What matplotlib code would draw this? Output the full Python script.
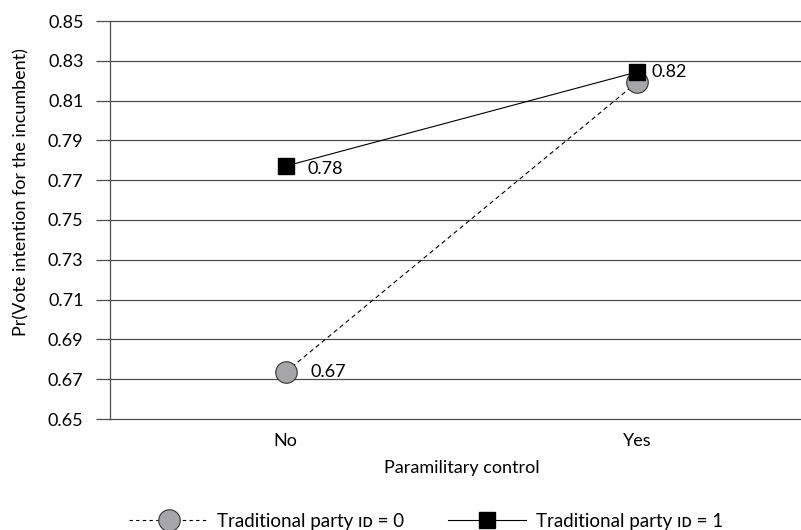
import matplotlib.pyplot as plt
from matplotlib.lines import Line2D

plt.rcParams['font.family'] = ['Lato', 'DejaVu Sans']

# Data
categories = ['No', 'Yes']
party_id0 = [0.6736, 0.8193]
party_id1 = [0.7771, 0.8244]
labels_id0 = ['0.67', '0.82']
labels_id1 = ['0.78', '']
yticks = [0.65, 0.67, 0.69, 0.71, 0.73, 0.75, 0.77, 0.79, 0.81, 0.83, 0.85]
legend_labels = ['Traditional party \u026a\u1d05 = 0', 'Traditional party \u026a\u1d05 = 1']

GRID = '#4d4d4d'
GRAY = '#a6a6a8'
FS = 13

fig = plt.figure(figsize=(8.01, 5.30), dpi=100)
ax = fig.add_axes([110 / 801, 1 - 419 / 530, 703 / 801, 398 / 530])

x = list(range(len(categories)))
ax.plot(x, party_id0, linestyle=(0, (4, 3)), color='black', linewidth=0.8,
        marker='o', markersize=15.5, markerfacecolor=GRAY,
        markeredgecolor='#333333', markeredgewidth=0.8, zorder=3)
ax.plot(x, party_id1, linestyle='-', color='black', linewidth=0.8,
        marker='s', markersize=12, markerfacecolor='black',
        markeredgecolor='black', zorder=4)

# data labels
ax.annotate(labels_id0[0], (x[0], party_id0[0]), xytext=(18, 0),
            textcoords='offset points', va='center', fontsize=FS)
ax.annotate(labels_id1[0], (x[0], party_id1[0]), xytext=(16, -2),
            textcoords='offset points', va='center', fontsize=FS)
ax.annotate(labels_id0[1], (x[1], party_id1[1]), xytext=(10, 0),
            textcoords='offset points', va='center', fontsize=FS)

ax.set_xlim(-0.5, 1.5)
ax.set_ylim(0.65, 0.85)
ax.set_yticks(yticks)
ax.set_yticklabels([f'{t:.2f}' for t in yticks], fontsize=FS)
ax.set_xticks(x)
ax.set_xticklabels(categories, fontsize=FS)
ax.tick_params(axis='x', length=0, pad=10)
ax.tick_params(axis='y', length=10, width=0.9, color=GRID, pad=9)

ax.hlines(yticks, -0.5, 1.5, color=GRID, linewidth=0.9, zorder=1, clip_on=False)
for side in ['top', 'right', 'bottom']:
    ax.spines[side].set_visible(False)
ax.spines['left'].set_color(GRID)
ax.spines['left'].set_linewidth(0.9)

ax.set_xlabel('Paramilitary control', fontsize=FS, labelpad=8)
ax.set_ylabel('Pr(Vote intention for the incumbent)', fontsize=FS)
ax.yaxis.set_label_coords(-0.114, 0.57)

handles = [
    Line2D([], [], linestyle=(0, (3, 3)), color='black', linewidth=0.8,
           marker='o', markersize=15.5, markerfacecolor=GRAY,
           markeredgecolor='#333333', markeredgewidth=0.8),
    Line2D([], [], linestyle='-', color='black', linewidth=0.8,
           marker='s', markersize=12, markerfacecolor='black'),
]
fig.legend(handles, legend_labels,
           loc='center', bbox_to_anchor=(426 / 801, 1 - 521 / 530), ncol=2,
           frameon=False, fontsize=FS + 0.5, handlelength=4.2, columnspacing=2.3,
           handletextpad=0.5)

fig.savefig('out.png', dpi=100)
